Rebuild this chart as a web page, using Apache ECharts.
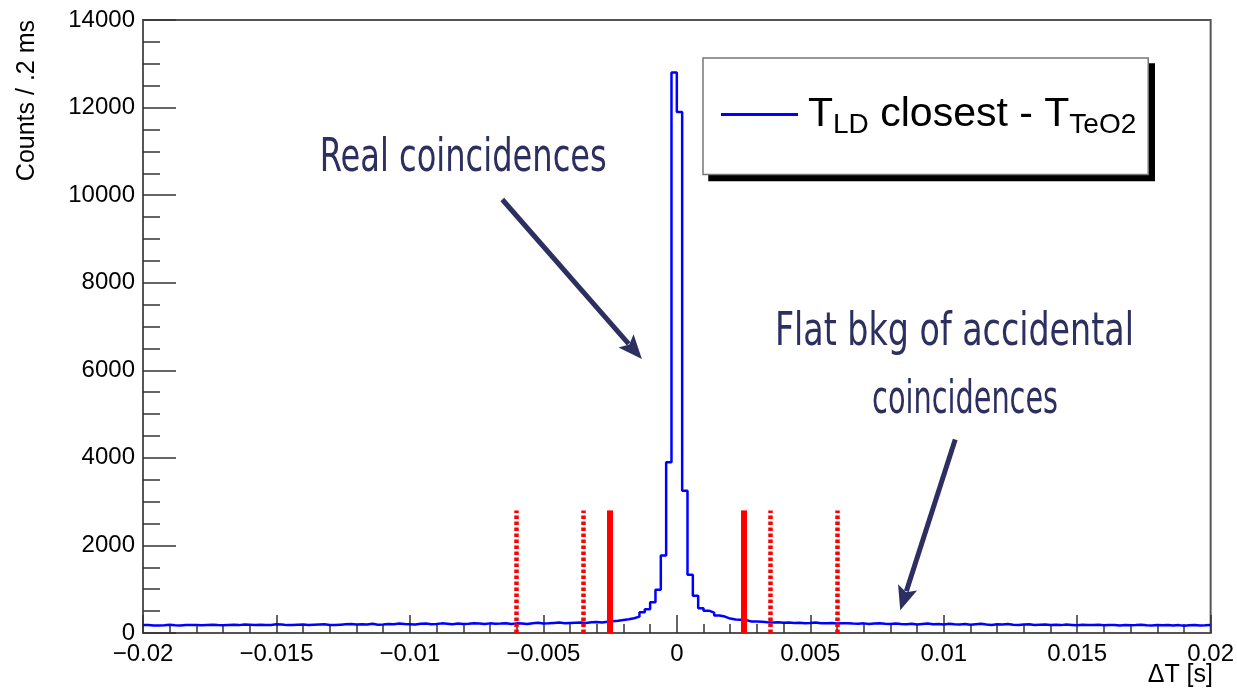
<!DOCTYPE html>
<html>
<head>
<meta charset="utf-8">
<script src="https://cdn.jsdelivr.net/npm/echarts@6/dist/echarts.min.js"></script>
<style>
  html, body { margin: 0; padding: 0; background: #fff; }
  #chart { width: 1237px; height: 690px; }
</style>
</head>
<body>
<div id="chart"></div>
<script>
// histogram: 200 bins of 0.2 ms from -0.02 s to 0.02 s
const xMin = -0.02;
const xMax = 0.02;
const binWidth = 0.0002;
const binCounts = [
  180, 170, 170, 175, 190, 175, 170, 180, 185, 180,
  175, 185, 190, 180, 175, 185, 190, 180, 195, 190,
  185, 190, 180, 185, 200, 195, 180, 185, 190, 195,
  185, 190, 195, 200, 185, 180, 190, 200, 205, 195,
  200, 195, 210, 190, 195, 205, 200, 215, 205, 200,
  195, 210, 215, 200, 205, 220, 210, 200, 215, 205,
  210, 225, 215, 205, 220, 210, 215, 225, 205, 220,
  215, 205, 225, 235, 215, 220, 230, 240, 225, 230,
  235, 240, 230, 245, 250, 240, 255, 268, 281, 297,
  313, 336, 373, 473, 540, 700, 990, 1770, 3900, 12800,
  11900, 3250, 1330, 850, 565, 510, 465, 400, 375, 330,
  310, 300, 295, 262, 265, 255, 245, 240, 245, 235,
  240, 230, 235, 225, 230, 240, 225, 220, 230, 215,
  220, 225, 215, 210, 220, 205, 215, 220, 210, 205,
  215, 205, 200, 210, 195, 205, 215, 200, 205, 195,
  210, 200, 195, 205, 190, 200, 210, 195, 185, 200,
  195, 205, 190, 185, 195, 200, 185, 190, 195, 185,
  190, 180, 195, 185, 175, 190, 185, 180, 190, 175,
  185, 180, 170, 185, 175, 180, 190, 175, 170, 180,
  175, 185, 170, 180, 165, 175, 180, 170, 175, 185
];

const yTicks = [0, 2000, 4000, 6000, 8000, 10000, 12000, 14000];

// red cut lines
const solidCuts = [-0.0025, 0.0025];
const dottedCuts = [-0.006, -0.0035, 0.0035, 0.006];
const cutTop = 2800;

// annotations, anchored in data coordinates (width = target text width in px)
const noteTexts = [
  { text: 'Real coincidences', at: [-0.0080, 10830], width: 287 },
  { text: 'Flat bkg of accidental', at: [0.0104, 6840], width: 359 },
  { text: 'coincidences', at: [0.0108, 5290], width: 186 }
];
const noteArrows = [
  { from: [-0.00654, 9900], to: [-0.00131, 6260] },
  { from: [0.01043, 4420], to: [0.00837, 520] }
];

const lineFont = '"Liberation Sans", Arial, sans-serif';
const noteFont = '"DejaVu Sans Condensed", "DejaVu Sans", sans-serif';
const noteColor = '#2c2f5f';

const histData = binCounts.map((v, i) => [+(xMin + i * binWidth).toFixed(4), v]);
histData.push([xMax, binCounts[binCounts.length - 1]]);

const fmtX = (v) => String(+v.toFixed(3)).replace('-', '\u2212');

const cutSegments = (xs) => xs.map(x => [{ coord: [x, 0] }, { coord: [x, cutTop] }]);

const chart = echarts.init(document.getElementById('chart'), null, { renderer: 'canvas' });

chart.setOption({
  animation: false,
  grid: {
    left: 143, right: 24, top: 20, bottom: 57,
    show: true, borderColor: '#555', borderWidth: 2, backgroundColor: 'transparent'
  },
  legend: {
    data: ['hist'],
    selectedMode: false,
    left: 703,
    top: 58,
    orient: 'vertical',
    padding: [36, 12, 35, 18],
    itemWidth: 77,
    itemHeight: 3,
    icon: 'rect',
    backgroundColor: '#fff',
    borderColor: '#777',
    borderWidth: 1.5,
    borderRadius: 0,
    z: 5,
    formatter: () => '{first|T}{sub|LD}{a| closest - T}{sub|TeO2}',
    textStyle: {
      fontFamily: lineFont,
      color: '#000',
      rich: {
        first: { fontSize: 41, fontFamily: lineFont, color: '#000', lineHeight: 50, verticalAlign: 'middle', padding: [0, 0, 0, 5] },
        a: { fontSize: 41, fontFamily: lineFont, color: '#000', lineHeight: 50, verticalAlign: 'middle' },
        sub: { fontSize: 28, fontFamily: lineFont, color: '#000', lineHeight: 8, verticalAlign: 'bottom' }
      }
    }
  },
  xAxis: {
    type: 'value',
    min: xMin,
    max: xMax,
    interval: 0.005,
    axisLine: { show: true, onZero: false, lineStyle: { color: '#555', width: 2 } },
    axisTick: { show: true, inside: true, length: 18, lineStyle: { color: '#333', width: 1.5 } },
    minorTick: { show: true, splitNumber: 5, length: 9, lineStyle: { color: '#333', width: 1.5 } },
    splitLine: { show: false },
    axisLabel: {
      fontFamily: lineFont, fontSize: 24, color: '#000', margin: 9,
      showMinLabel: true, showMaxLabel: true,
      formatter: (v) => fmtX(v)
    }
  },
  yAxis: {
    type: 'value',
    min: yTicks[0],
    max: yTicks[yTicks.length - 1],
    interval: 2000,
    axisLine: { show: true, onZero: false, lineStyle: { color: '#555', width: 2 } },
    axisTick: { show: true, inside: true, length: 33, lineStyle: { color: '#333', width: 1.5 } },
    minorTick: { show: true, splitNumber: 4, length: 17, lineStyle: { color: '#333', width: 1.5 } },
    splitLine: { show: false },
    axisLabel: {
      fontFamily: lineFont, fontSize: 24, color: '#000', margin: 8,
      formatter: (v) => String(v)
    }
  },
  series: [
    {
      name: 'hist',
      type: 'line',
      step: 'end',
      data: histData,
      symbol: 'none',
      color: '#0000ff',
      lineStyle: { color: '#0000ff', width: 2.5 },
      z: 3
    },
    {
      name: 'cuts',
      type: 'line',
      data: [],
      silent: true,
      z: 4,
      markLine: {
        silent: true,
        symbol: ['none', 'none'],
        label: { show: false },
        animation: false,
        lineStyle: { color: '#ff0000', width: 6, type: 'solid' },
        data: cutSegments(solidCuts)
      }
    },
    {
      name: 'cutsDotted',
      type: 'line',
      data: [],
      silent: true,
      z: 4,
      markLine: {
        silent: true,
        symbol: ['none', 'none'],
        label: { show: false },
        animation: false,
        lineStyle: { color: '#ff0000', width: 4.5, type: [3.5, 2.5] },
        data: cutSegments(dottedCuts)
      }
    }
  ]
});

// annotation layer: texts and arrows placed from data coordinates
const measure = document.createElement('canvas').getContext('2d');
measure.font = '46px ' + noteFont;

const toPx = (pt) => chart.convertToPixel({ gridIndex: 0 }, pt);

const arrowShapes = (from, to) => {
  const a = toPx(from);
  const b = toPx(to);
  const dx = b[0] - a[0];
  const dy = b[1] - a[1];
  const len = Math.hypot(dx, dy);
  const ux = dx / len, uy = dy / len;
  const headLen = 24, headHalf = 10;
  const base = [b[0] - ux * headLen, b[1] - uy * headLen];
  return [
    {
      type: 'line',
      shape: { x1: a[0], y1: a[1], x2: base[0] + ux * 4, y2: base[1] + uy * 4 },
      style: { stroke: noteColor, lineWidth: 5 },
      z: 10
    },
    {
      type: 'polygon',
      shape: {
        points: [
          b,
          [base[0] - uy * headHalf, base[1] + ux * headHalf],
          [base[0] + ux * 5, base[1] + uy * 5],
          [base[0] + uy * headHalf, base[1] - ux * headHalf]
        ]
      },
      style: { fill: noteColor },
      z: 10
    }
  ];
};

const graphics = [];

// drop shadow behind the legend box, resized below
graphics.push({
  type: 'rect',
  id: 'legendShadow',
  z: 1,
  shape: { x: 709, y: 64, width: 444, height: 114 },
  style: { fill: '#000' }
});

noteTexts.forEach(n => {
  const p = toPx(n.at);
  graphics.push({
    type: 'text',
    x: p[0],
    y: p[1],
    scaleX: n.width / measure.measureText(n.text).width,
    z: 10,
    style: {
      text: n.text,
      font: '46px ' + noteFont,
      fill: noteColor,
      align: 'center', textAlign: 'center',
      verticalAlign: 'middle', textVerticalAlign: 'middle'
    }
  });
});
noteArrows.forEach(a => graphics.push(...arrowShapes(a.from, a.to)));

graphics.push({
  type: 'text',
  x: 27,
  y: 20,
  rotation: Math.PI / 2,
  style: {
    text: 'Counts / .2 ms',
    font: '25px ' + lineFont,
    fill: '#000',
    align: 'right', textAlign: 'right',
    verticalAlign: 'middle', textVerticalAlign: 'middle'
  }
});
graphics.push({
  type: 'text',
  x: 1213,
  y: 675,
  style: {
    text: '\u0394T [s]',
    font: '25px ' + lineFont,
    fill: '#000',
    align: 'right', textAlign: 'right',
    verticalAlign: 'middle', textVerticalAlign: 'middle'
  }
});

chart.setOption({ graphic: { elements: graphics } });

// match the shadow to the rendered legend box when the view is reachable
const legendModel = chart.getModel().getComponent('legend');
const legendView = chart._componentsMap && legendModel ? chart._componentsMap[legendModel.__viewId] : null;
if (legendView && legendView.group) {
  const r = legendView.group.getBoundingRect();
  chart.setOption({
    graphic: {
      elements: [{
        id: 'legendShadow',
        shape: { x: legendView.group.x + r.x + 6, y: legendView.group.y + r.y + 6, width: r.width, height: r.height }
      }]
    }
  });
}
</script>
</body>
</html>
